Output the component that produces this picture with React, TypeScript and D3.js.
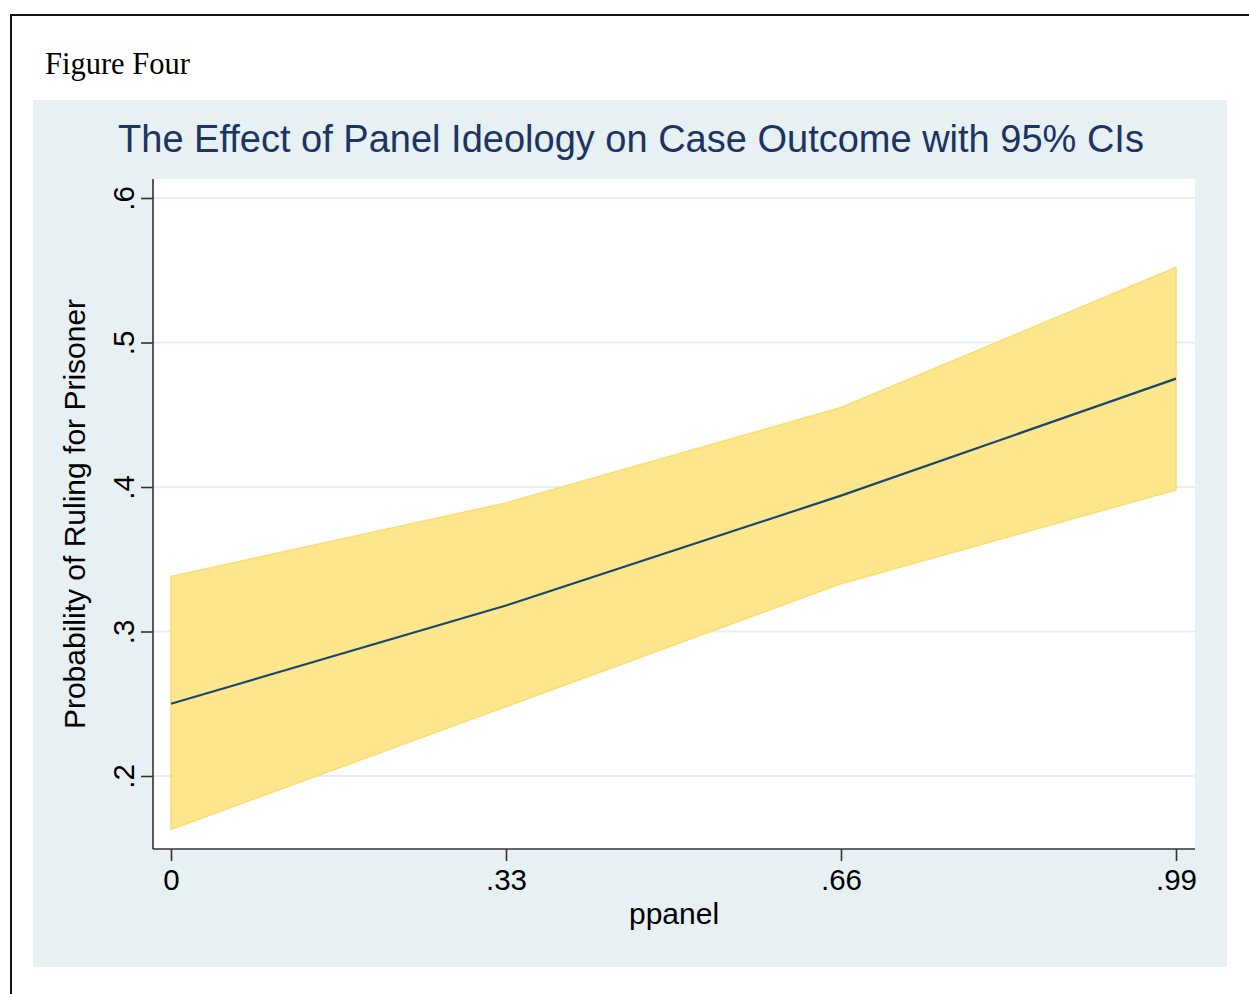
import * as d3 from 'd3';
import { useRef, useEffect } from 'react';

// predicted probabilities with 95% CI
const ppanel = [0, 0.33, 0.66, 0.99];
const estimate = [0.25, 0.318, 0.394, 0.475];
const ciLower = [0.163, 0.248, 0.333, 0.398];
const ciUpper = [0.338, 0.389, 0.455, 0.552];
const yTicks = [0.2, 0.3, 0.4, 0.5, 0.6];
const xTicks = [0, 0.33, 0.66, 0.99];

const fmt = (v: number) => (v === 0 ? '0' : d3.format('.2~f')(v).replace(/^0/, ''));

const App = () => {
    const svgRef = useRef<SVGSVGElement>(null);

    useEffect(() => {
        if (!svgRef.current) return;
        const svg = d3.select(svgRef.current);
        svg.selectAll('*').remove();

        const W = 1249, H = 994;
        const plot = { left: 153, right: 1195, top: 179, bottom: 849 };
        const sans = 'Liberation Sans, Arial, Helvetica, sans-serif';

        svg.attr('width', W).attr('height', H);

        svg.append('rect').attr('width', W).attr('height', H).attr('fill', '#fff');
        // page frame
        svg.append('rect')
            .attr('x', 11).attr('y', 15)
            .attr('width', W + 20).attr('height', H + 20)
            .attr('fill', 'none').attr('stroke', '#111').attr('stroke-width', 2);

        svg.append('text')
            .attr('x', 45).attr('y', 74)
            .attr('font-family', 'Liberation Serif, Times New Roman, serif')
            .attr('font-size', 30.5)
            .attr('fill', '#000')
            .text('Figure Four');

        // graph background
        svg.append('rect')
            .attr('x', 33).attr('y', 100)
            .attr('width', 1227 - 33).attr('height', 967 - 100)
            .attr('fill', '#e7f0f2');

        svg.append('rect')
            .attr('x', plot.left).attr('y', plot.top)
            .attr('width', plot.right - plot.left).attr('height', plot.bottom - plot.top)
            .attr('fill', '#fff');

        svg.append('text')
            .attr('x', 631).attr('y', 152)
            .attr('text-anchor', 'middle')
            .attr('font-family', sans)
            .attr('font-size', 38)
            .attr('fill', '#1c3463')
            .text('The Effect of Panel Ideology on Case Outcome with 95% CIs');

        const x = d3.scaleLinear().domain([0, 0.99]).range([171, 1176]);
        const y = d3.scaleLinear().domain([0.2, 0.6]).range([776, 198]);

        // gridlines
        svg.append('g')
            .selectAll('line')
            .data(yTicks)
            .enter()
            .append('line')
            .attr('x1', plot.left).attr('x2', plot.right)
            .attr('y1', d => y(d)).attr('y2', d => y(d))
            .attr('stroke', '#e6eff1').attr('stroke-width', 2);

        const rows = ppanel.map((p, i) => ({ p, est: estimate[i], lo: ciLower[i], hi: ciUpper[i] }));

        const area = d3.area<typeof rows[number]>()
            .x(d => x(d.p))
            .y0(d => y(d.lo))
            .y1(d => y(d.hi));

        svg.append('path')
            .datum(rows)
            .attr('d', area)
            .attr('fill', '#fde68c')
            .attr('stroke', '#fbdd72')
            .attr('stroke-width', 1.5);

        const line = d3.line<typeof rows[number]>()
            .x(d => x(d.p))
            .y(d => y(d.est));

        svg.append('path')
            .datum(rows)
            .attr('d', line)
            .attr('fill', 'none')
            .attr('stroke', '#1a476f')
            .attr('stroke-width', 2.2);

        // axes
        const yAxis = svg.append('g')
            .attr('transform', `translate(${plot.left},0)`)
            .call(d3.axisLeft(y).tickValues(yTicks).tickSize(12).tickFormat(d => fmt(+d)))
            .call(g => g.select('.domain').attr('d', `M0,${plot.top}V${plot.bottom}`));
        yAxis.selectAll('line, path').attr('stroke', '#333').attr('stroke-width', 1.6);
        yAxis.selectAll('text')
            .attr('font-family', sans).attr('font-size', 29.5).attr('fill', '#000')
            .attr('text-anchor', 'middle')
            .attr('dy', null)
            .attr('x', 0).attr('y', 0)
            .attr('transform', 'translate(-19,0) rotate(-90)');

        const xAxis = svg.append('g')
            .attr('transform', `translate(0,${plot.bottom})`)
            .call(d3.axisBottom(x).tickValues(xTicks).tickSize(12).tickFormat(d => fmt(+d)))
            .call(g => g.select('.domain').attr('d', `M${plot.left},0H${plot.right}`));
        xAxis.selectAll('line, path').attr('stroke', '#333').attr('stroke-width', 1.6);
        xAxis.selectAll('text')
            .attr('font-family', sans).attr('font-size', 29.5).attr('fill', '#000')
            .attr('dy', null).attr('y', 41);

        svg.append('text')
            .attr('x', (plot.left + plot.right) / 2).attr('y', 924)
            .attr('text-anchor', 'middle')
            .attr('font-family', sans).attr('font-size', 30).attr('fill', '#000')
            .text('ppanel');

        svg.append('text')
            .attr('transform', `translate(85,${(plot.top + plot.bottom) / 2}) rotate(-90)`)
            .attr('text-anchor', 'middle')
            .attr('font-family', sans).attr('font-size', 30).attr('fill', '#000')
            .text('Probability of Ruling for Prisoner');
    }, []);

    return <svg ref={svgRef} style={{ position: 'absolute', left: 0, top: 0 }} />;
};

export default App;
